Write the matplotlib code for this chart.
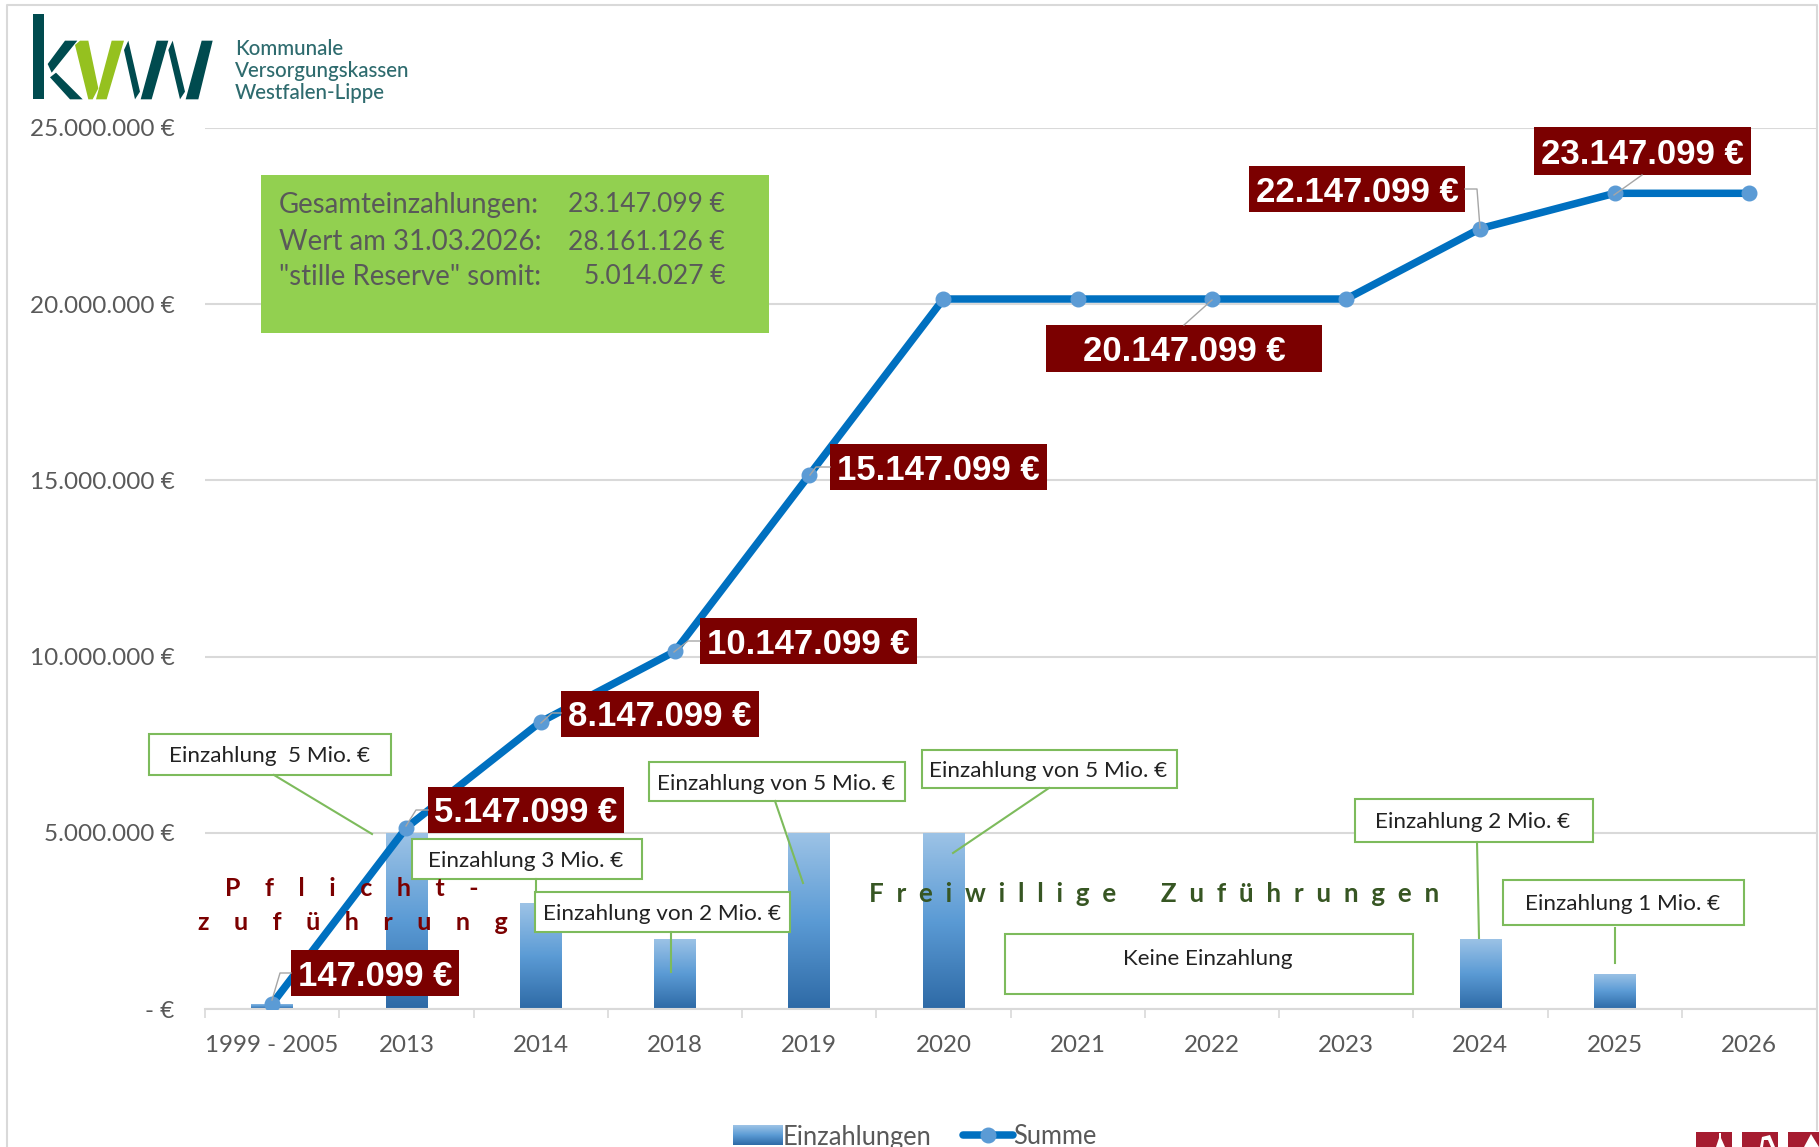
import numpy as np
import matplotlib
matplotlib.use('Agg')
import matplotlib.pyplot as plt
from matplotlib.colors import LinearSegmentedColormap
from matplotlib.patches import Rectangle, Polygon
from matplotlib.ticker import FuncFormatter

W, H = 1819, 1147

categories = ['1999 - 2005', '2013', '2014', '2018', '2019', '2020',
              '2021', '2022', '2023', '2024', '2025', '2026']
einzahlungen = [147099, 5000000, 3000000, 2000000, 5000000, 5000000,
                0, 0, 0, 2000000, 1000000, 0]
summe = [147099, 5147099, 8147099, 10147099, 15147099, 20147099,
         20147099, 20147099, 20147099, 22147099, 23147099, 23147099]
y_ticks = [0, 5000000, 10000000, 15000000, 20000000, 25000000]

info_names = ['Gesamteinzahlungen:', 'Wert am 31.03.2026:', '"stille Reserve" somit:']
info_values = ['23.147.099 €', '28.161.126 €', '5.014.027 €']

note_texts = ['Einzahlung  5 Mio. €', 'Einzahlung 3 Mio. €', 'Einzahlung von 2 Mio. €',
              'Einzahlung von 5 Mio. €', 'Einzahlung von 5 Mio. €',
              'Einzahlung 2 Mio. €', 'Einzahlung 1 Mio. €', 'Keine Einzahlung']

# pixel layout of the hand placed boxes (x0, x1, y0, y1)
note_boxes = [(149, 391, 734, 775), (412, 642, 839, 879), (535, 790, 892, 932),
              (649, 905, 762, 801), (922, 1177, 750, 788),
              (1355, 1593, 799, 842), (1503, 1744, 880, 925), (1005, 1413, 934, 994)]
note_lines = [[(274, 775), (372, 834)], [(536, 879), (536, 892)], [(671, 932), (671, 972)],
              [(775, 801), (803, 883)], [(1049, 788), (953, 853)],
              [(1477, 842), (1479, 938)], [(1615, 928), (1615, 963)]]
label_idx = [0, 1, 2, 3, 4, 7, 9, 10]
label_boxes = [(291, 459, 950, 996), (428, 624, 787, 833), (561, 759, 691, 737),
               (700, 917, 618, 664), (830, 1047, 444, 490), (1046, 1322, 325, 372),
               (1249, 1465, 166, 212), (1534, 1751, 127, 175)]
label_lines = [[(272, 1000), (280, 973), (291, 973)], [(406, 826), (416, 810), (428, 810)],
               [(541, 723), (552, 713), (561, 713)], [(674, 652), (688, 641), (700, 641)],
               [(810, 475), (816, 467), (830, 467)], [(1212, 300), (1184, 325)],
               [(1465, 189), (1477, 189), (1480, 228)], [(1642, 175), (1614, 195)]]

body_font = 'Lato'
GREY = '#595959'
GRID = '#D9D9D9'
DARKRED = '#7B0000'
NOTE_GREEN = '#7DBB5C'
LOGO_DARK = '#004B4F'
LOGO_GREEN = '#95C11F'
bar_cmap = LinearSegmentedColormap.from_list('bar', ['#9DC3E6', '#5B9BD5', '#2E6AA6'])

def fmt(v):
    return '{:,}'.format(v).replace(',', '.') + ' €'

def y_fmt(v, pos):
    return '- €' if v == 0 else fmt(int(v))

def gradient(axis, x0, x1, y0, y1, clip=None):
    grad = np.linspace(0, 1, 128).reshape(-1, 1)
    im = axis.imshow(grad, cmap=bar_cmap, extent=(x0, x1, y0, y1), aspect='auto',
                     origin='upper', zorder=2)
    if clip is not None:
        im.set_clip_path(clip)

plt.rcParams['font.family'] = [body_font, 'DejaVu Sans']
fig = plt.figure(figsize=(W / 100, H / 100), dpi=100, facecolor='white')
ax = fig.add_axes([205 / W, 1 - 1009 / H, 1611 / W, 881 / H])

x = np.arange(len(categories))
bars = ax.bar(x, einzahlungen, width=0.31, color='#5B9BD5', zorder=2, label='Einzahlungen')
for b in bars:
    if b.get_height() > 0:
        gradient(ax, b.get_x(), b.get_x() + b.get_width(), 0, b.get_height(), b)
line, = ax.plot(x, summe, color='#0070C0', lw=5.4, marker='o', ms=10.5, mfc='#5B9BD5',
                mec='#5B9BD5', zorder=3, label='Summe', solid_capstyle='round')

ax.set_xlim(-0.5, 11.5)
ax.set_ylim(0, 25000000)
ax.set_yticks(y_ticks)
ax.yaxis.set_major_formatter(FuncFormatter(y_fmt))
ax.set_xticks(x)
ax.set_xticklabels(categories)
ax.set_xticks(np.arange(-0.5, 11.5, 1), minor=True)
ax.tick_params(axis='x', which='major', length=0, pad=19, labelsize=17.4, labelcolor=GREY)
ax.tick_params(axis='x', which='minor', length=6.5, width=1.2, color=GRID)
ax.tick_params(axis='y', length=0, pad=22, labelsize=17.5, labelcolor=GREY)
ax.grid(axis='y', color=GRID, lw=1.5, zorder=0)
ax.set_axisbelow(True)
for s in ['top', 'right', 'left']:
    ax.spines[s].set_visible(False)
ax.spines['bottom'].set_color(GRID)
ax.spines['bottom'].set_linewidth(1.5)

leg = fig.legend(handles=[bars, line], loc='center left', bbox_to_anchor=(710 / W, 1 - 1137 / H),
                 ncol=2, frameon=False, fontsize=18.4, labelcolor=GREY, handlelength=1.95,
                 handleheight=0.8, handletextpad=0.0, columnspacing=1.23)
leg.set_zorder(4)

# overlay in picture pixels for everything placed by hand in the original
ov = fig.add_axes([0, 0, 1, 1], zorder=5)
ov.set_xlim(0, W)
ov.set_ylim(H, 0)
ov.axis('off')
ov.patch.set_alpha(0)

# outer chart frame
ov.plot([6.5, 6.5, 1816.5, 1816.5], [H, 5, 5, 1130], color=GRID, lw=1.5)

# logo
logo_dark = [
    [(40, 42), (73, 42), (73, 298), (40, 298)],
    [(135, 122), (172, 122), (95, 218), (83, 192)],
    [(90, 232), (108, 218), (188, 298), (150, 298)],
    [(312, 150), (325, 122), (360, 275), (345, 298)],
    [(410, 122), (445, 122), (395, 298), (362, 298)],
    [(445, 150), (458, 122), (495, 275), (480, 298)],
    [(545, 122), (578, 122), (535, 298), (497, 298)],
]
logo_green = [
    [(165, 135), (180, 122), (205, 122), (235, 265), (218, 298), (205, 298)],
    [(275, 122), (312, 122), (260, 298), (228, 298)],
]
for polys, col in [(logo_dark, LOGO_DARK), (logo_green, LOGO_GREEN)]:
    for p in polys:
        ov.add_patch(Polygon([(20 + a / 3, b / 3) for a, b in p], closed=True, color=col, lw=0))
for txt, yy in zip(['Kommunale', 'Versorgungskassen', 'Westfalen-Lippe'], [49, 71, 93]):
    ov.text(235, yy, txt, color='#2E6B6E', fontsize=14.8, va='center', ha='left', fontweight='medium')

# green info box
ov.add_patch(Rectangle((261, 175), 508, 158, color='#92D050', lw=0))
for name, val, yy in zip(info_names, info_values, [205, 242, 277]):
    ov.text(279, yy, name, color=GREY, fontsize=19.9, va='center', ha='left')
    ov.text(725, yy, val, color=GREY, fontsize=19, va='center', ha='right')

# leaders of the value labels
for pts in label_lines:
    ov.plot([p[0] for p in pts], [p[1] for p in pts], color='#A6A6A6', lw=1)

# hand drawn notes
for pts in note_lines:
    ov.plot([p[0] for p in pts], [p[1] for p in pts], color=NOTE_GREEN, lw=1.5)
for txt, (x0, x1, y0, y1) in zip(note_texts, note_boxes):
    ov.add_patch(Rectangle((x0, y0), x1 - x0, y1 - y0, fc='white', ec=NOTE_GREEN, lw=1.5))
    ty = (y0 + y1) / 2 + 2 if txt != 'Keine Einzahlung' else 959
    ov.text((x0 + x1) / 2 - 1, ty, txt, color='#222222', fontsize=16.2, ha='center', va='center')

# value labels
for i, (x0, x1, y0, y1) in zip(label_idx, label_boxes):
    ov.add_patch(Rectangle((x0, y0), x1 - x0, y1 - y0, color=DARKRED, lw=0))
    ov.text((x0 + x1) / 2, (y0 + y1) / 2 + 3, fmt(summe[i]), color='white', fontsize=25,
            fontweight='bold', family='Liberation Sans', ha='center', va='center')

# spaced headings
gap = ' ' * 4
ov.text(352, 889, gap.join('Pflicht') + gap + '-', color=DARKRED, fontsize=18, fontweight='bold',
        ha='center', va='center')
ov.text(353, 923, gap.join('zuführung'), color=DARKRED, fontsize=18, fontweight='bold',
        ha='center', va='center')
ov.text(1154, 894, '  '.join('Freiwillige') + ' ' * 7 + '  '.join('Zuführungen'), color='#375623',
        fontsize=18.7, fontweight='bold', ha='center', va='center')

# bottom right icons, cut by the picture edge
for x0, x1 in [(1696, 1732), (1742, 1778), (1788, 1819)]:
    ov.add_patch(Rectangle((x0, 1132), x1 - x0, 15, color='#A51C30', lw=0))
ov.add_patch(Polygon([(1719, 1133), (1721, 1133), (1721, 1138), (1725, 1147), (1716, 1147), (1719, 1138)], color='white', lw=0))
ov.add_patch(Polygon([(1760, 1147), (1762, 1137), (1770, 1135), (1775, 1147), (1771, 1147), (1768, 1140), (1764, 1140), (1763, 1147)], color='white', lw=0))
ov.add_patch(Polygon([(1804, 1147), (1811, 1134), (1819, 1147)], color='white', lw=0))

# legend swatch gets the same gradient as the bars
fig.canvas.draw()
ext = leg.get_patches()[0].get_window_extent()
gradient(ov, ext.x0, ext.x1, H - ext.y0, H - ext.y1)
ov.set_xlim(0, W)
ov.set_ylim(H, 0)

fig.savefig('out.png', dpi=100, facecolor='white')
